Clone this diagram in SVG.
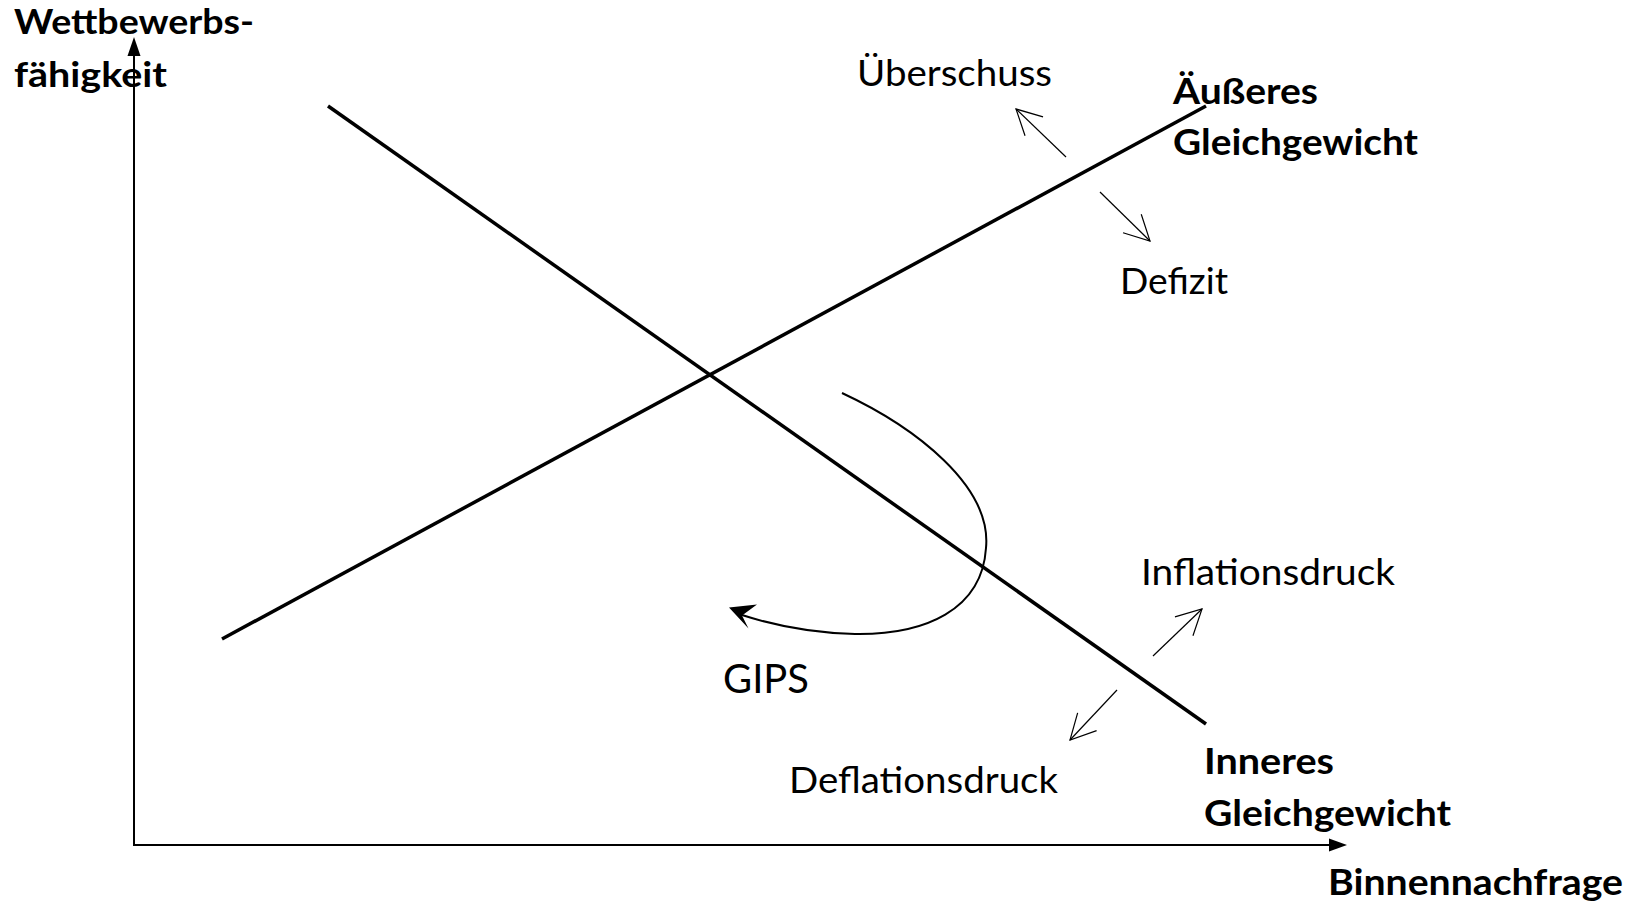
<svg xmlns="http://www.w3.org/2000/svg" width="1637" height="904" viewBox="0 0 1637 904">
<style>
.t{font-family:Lato,"Liberation Sans",sans-serif;font-size:36px;fill:#000}
.b{font-weight:bold}
.ylab{font-size:35px}
.main{stroke:#000;stroke-width:3.5;fill:none;stroke-linecap:butt}
.axis{stroke:#000;stroke-width:2;fill:none}
.thin{stroke:#000;stroke-width:1.2;fill:none;marker-end:url(#open)}
</style>
<defs>
<marker id="open" markerUnits="userSpaceOnUse" markerWidth="30" markerHeight="30" viewBox="-27 -15 30 30" refX="0" refY="0" orient="auto">
<path d="M-25,-13 L0,0 L-25,13" fill="none" stroke="#000" stroke-width="1.2"/>
</marker>
</defs>
<rect width="1637" height="904" fill="#fff"/>
<g id="connectors">
<g id="axes">
<line class="axis" x1="134" y1="845" x2="134" y2="52"/>
<polygon points="134,37 127.5,56 140.5,56" fill="#000"/>
<line class="axis" x1="133" y1="845" x2="1332" y2="845"/>
<polygon points="1347,845 1329,838.5 1329,851.5" fill="#000"/>
</g>
<line id="line-aeusseres" class="main" x1="222" y1="639" x2="1206" y2="106"/>
<line id="line-inneres" class="main" x1="328" y1="106" x2="1206" y2="724"/>
<path id="gips-curve" d="M842,393 C915,427 992,486 986,548 C982,610 925,635 855,634 C812,633 776,626 742,615" fill="none" stroke="#000" stroke-width="2"/>
<polygon points="729,607.5 757,604.5 742,615.5 748.5,628.5" fill="#000"/>
<line class="thin" x1="1066" y1="157" x2="1016" y2="109"/>
<line class="thin" x1="1100" y1="192" x2="1150" y2="241"/>
<line class="thin" x1="1153" y1="656" x2="1202" y2="609"/>
<line class="thin" x1="1117" y1="690" x2="1070" y2="740"/>
</g>
<g id="label-y"><text class="t b ylab" x="14" y="34" textLength="240" lengthAdjust="spacingAndGlyphs">Wettbewerbs-</text><text class="t b ylab" x="14" y="87" textLength="153" lengthAdjust="spacingAndGlyphs">fähigkeit</text></g>
<g id="label-x"><text class="t b" x="1328" y="895" textLength="295" lengthAdjust="spacingAndGlyphs">Binnennachfrage</text></g>
<g id="label-ueberschuss"><text class="t" x="857" y="86" textLength="195" lengthAdjust="spacingAndGlyphs">Überschuss</text></g>
<g id="label-aeusseres"><text class="t b" x="1173" y="104" textLength="145" lengthAdjust="spacingAndGlyphs">Äußeres</text><text class="t b" x="1173" y="155" textLength="245" lengthAdjust="spacingAndGlyphs">Gleichgewicht</text></g>
<g id="label-defizit"><text class="t" x="1120" y="294" textLength="108" lengthAdjust="spacingAndGlyphs">Defizit</text></g>
<g id="label-gips"><text class="t" style="font-size:40px" x="723" y="693" textLength="86" lengthAdjust="spacingAndGlyphs">GIPS</text></g>
<g id="label-inflation"><text class="t" x="1141" y="585" textLength="254" lengthAdjust="spacingAndGlyphs">Inflationsdruck</text></g>
<g id="label-deflation"><text class="t" x="789" y="793" textLength="269" lengthAdjust="spacingAndGlyphs">Deflationsdruck</text></g>
<g id="label-inneres"><text class="t b" x="1204" y="774" textLength="130" lengthAdjust="spacingAndGlyphs">Inneres</text><text class="t b" x="1204" y="826" textLength="247" lengthAdjust="spacingAndGlyphs">Gleichgewicht</text></g>
</svg>
